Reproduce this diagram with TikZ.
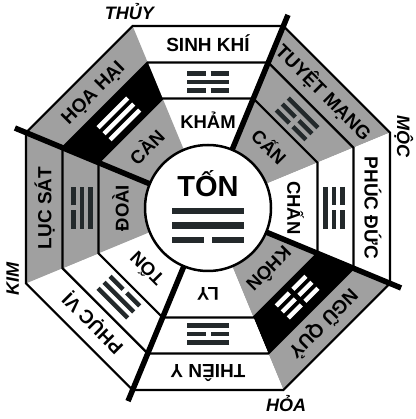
\documentclass[tikz,border=0pt]{standalone}
\usepackage{fontspec}
\setmainfont{Liberation Sans}
\usetikzlibrary{calc}

\definecolor{sectorgray}{HTML}{A0A0A0}
\definecolor{barink}{HTML}{23292B}

\begin{document}
\begin{tikzpicture}[x=1pt, y=1pt,
  ringline/.style={draw=black, line width=2.2pt, line join=miter},
  axisline/.style={draw=black, line width=5.5pt},
  hubline/.style={draw=black, line width=2.5pt, fill=white},
  yang/.style={line width=4.4pt},
  yin/.style={line width=4.4pt, dash pattern=on 18.5pt off 5pt},
  hubyang/.style={line width=6.5pt},
  hubyin/.style={line width=6.5pt, dash pattern=on 32pt off 8pt},
  starlabel/.style={font=\bfseries\fontsize{19}{19}\selectfont,
    inner sep=0pt, text height=13.6pt, text depth=0pt},
  palace/.style={font=\bfseries\fontsize{18.5}{18.5}\selectfont,
    inner sep=0pt, text height=13.2pt, text depth=0pt},
  element/.style={font=\bfseries\itshape\fontsize{18}{18}\selectfont,
    inner sep=0pt, text height=12.9pt, text depth=0pt},
]
\useasboundingbox (-208,-211) rectangle (207,208);

%── Tam giác từng cung ────────────────────────────────────────────────────────

\foreach \a/\sfill/\band/\ink/\outer/\inner/\ya/\yb/\yc [count=\k] in {
    90/white/white/barink/SINH KHÍ/KHẢM/yin/yang/yin,
    45/sectorgray/sectorgray/barink/TUYỆT MẠNG/CẤN/yang/yin/yin,
    0/white/white/barink/PHÚC ĐỨC/CHẤN/yin/yin/yang,
    -45/sectorgray/black/white/NGŨ QUỶ/KHÔN/yin/yin/yin,
    -90/white/white/barink/THIÊN Y/LY/yang/yin/yang,
    -135/white/white/barink/PHỤC VỊ/TỐN/yang/yang/yin,
    180/sectorgray/sectorgray/barink/LỤC SÁT/ĐOÀI/yin/yang/yang,
    135/sectorgray/black/white/HỌA HẠI/CÀN/yang/yang/yang} {
  \fill[\sfill] (0,0) -- (\a-22.5:197) -- (\a+22.5:197) -- cycle;
  \fill[\band] (\a-22.5:118.5) -- (\a-22.5:157.5)
    -- (\a+22.5:157.5) -- (\a+22.5:118.5) -- cycle;
  % quẻ: hào trên quay ra ngoài
  \begin{scope}[rotate=\a-90]
    \draw[\ya, \ink] (-21,134.5) -- (21,134.5);
    \draw[\yb, \ink] (-21,126)   -- (21,126);
    \draw[\yc, \ink] (-21,117.5) -- (21,117.5);
  \end{scope}
  \node[starlabel, rotate=\a-90] (star\k)   at (\a:163.5) {\outer};
  \node[palace,    rotate=\a-90] (palace\k) at (\a:86)    {\inner};
}

%── Ba vòng bát giác ──────────────────────────────────────────────────────────

\foreach \r in {197,157.5,118.5}
  \draw[ringline] (22.5:\r) -- (67.5:\r) -- (112.5:\r) -- (157.5:\r)
    -- (202.5:\r) -- (247.5:\r) -- (292.5:\r) -- (337.5:\r) -- cycle;

%── Tâm và bốn trục ───────────────────────────────────────────────────────────

\draw[hubline] (0,0) circle (63);
\foreach \a in {67.5,157.5,247.5,337.5}
  \draw[axisline] (\a:63) -- (\a:209);

\node[font=\bfseries\fontsize{29}{29}\selectfont, inner sep=0pt,
  text height=20.8pt, text depth=0pt] (hub) at (0,22) {TỐN};
\draw[hubyang, barink] (-36,-3)    -- (36,-3);
\draw[hubyang, barink] (-36,-17.5) -- (36,-17.5);
\draw[hubyin,  barink] (-36,-32)   -- (36,-32);

%── Ngũ hành ở góc ────────────────────────────────────────────────────────────

\node[element]            (thuy) at (112:210)   {THỦY};
\node[element, rotate=-90] (moc)  at (20:208)    {MỘC};
\node[element]            (hoa)  at (-68.4:212) {HỎA};
\node[element, rotate=90]  (kim)  at (200:208)   {KIM};

\end{tikzpicture}
\end{document}
